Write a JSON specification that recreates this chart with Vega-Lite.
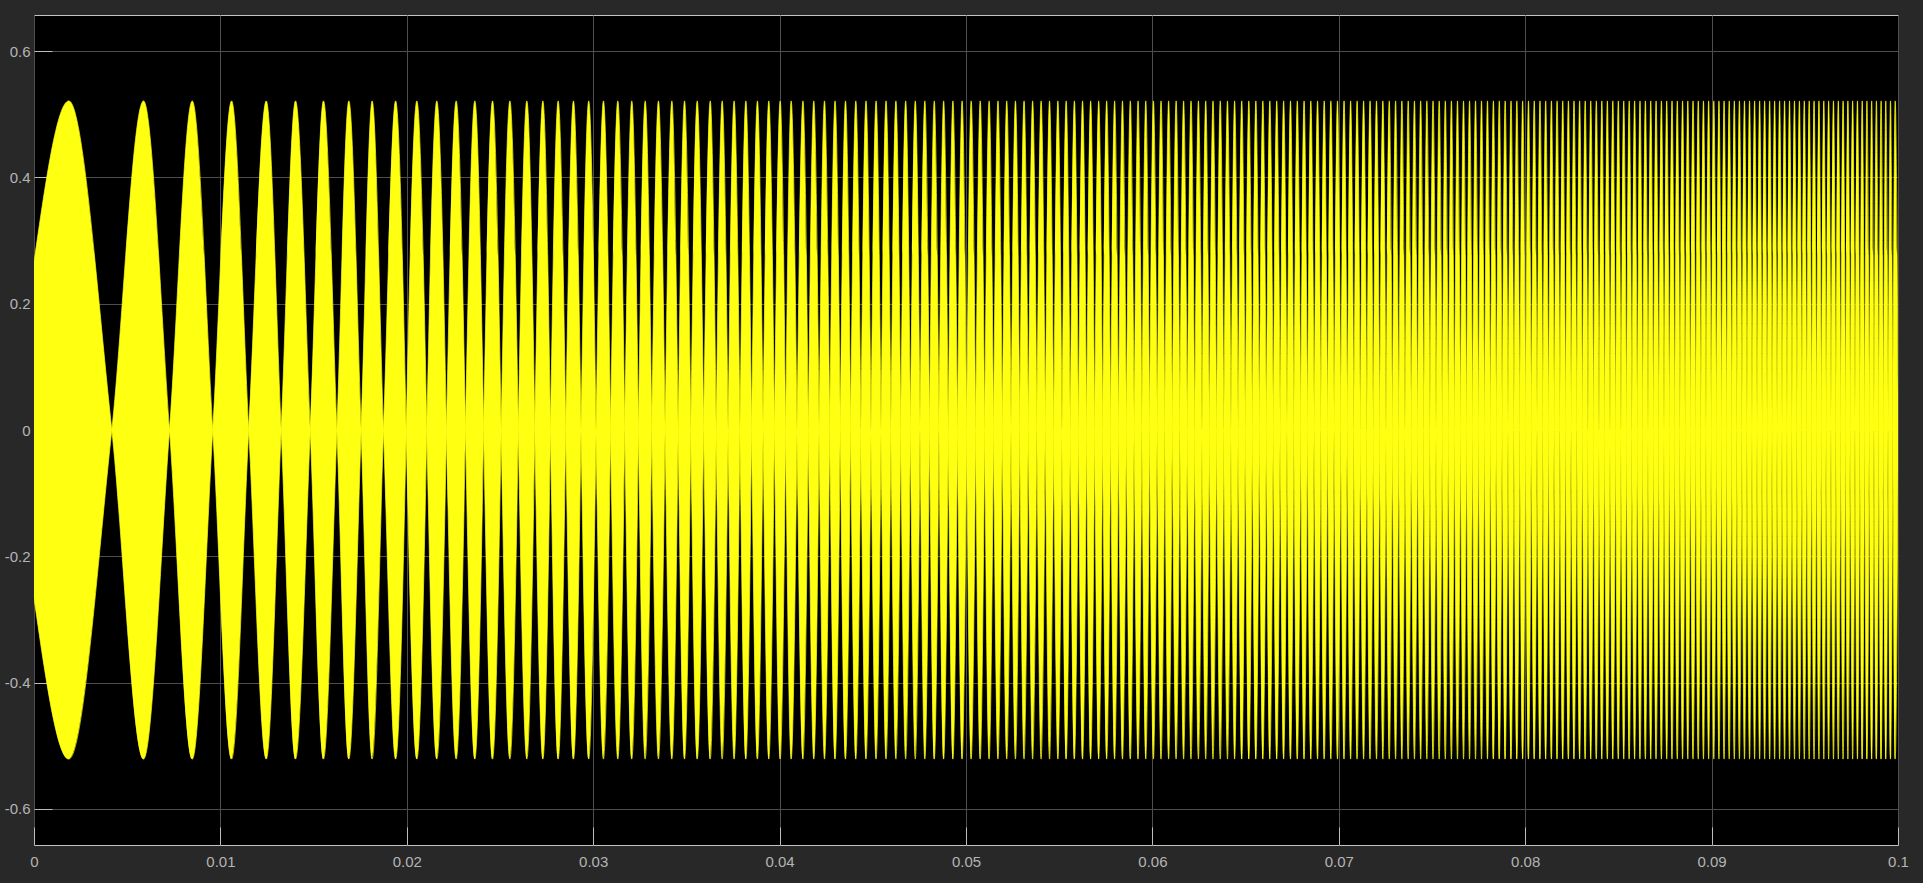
{
"$schema": "https://vega.github.io/schema/vega-lite/v6.json",
"width": 1864, "height": 830,
"autosize": {"type": "none"},
"padding": {"left": 34, "top": 15, "right": 25, "bottom": 38},
"background": "#282828",
"config": {
 "view": {"fill": "#000000", "stroke": "#c4c4c4", "strokeWidth": 1},
 "axis": {"grid": true, "gridColor": "#4e4e4e", "gridWidth": 1, "domain": false, "tickColor": "#bdbdbd", "tickSize": -18, "labelColor": "#b4b4b4", "labelFont": "Liberation Sans", "labelFontSize": 15, "title": null, "labelFlush": false, "format": "~f"}
},
"data": {"values": [
{"t":0,"e":0.266},{"t":0.001867,"e":0.521},{"t":0.004174,"e":0},{"t":0.005875,"e":-0.521},{"t":0.00727,"e":0},{"t":0.00849,"e":0.521},{"t":0.00959,"e":0},{"t":0.0106,"e":-0.521},{"t":0.01152,"e":0},{"t":0.01246,"e":0.521},{"t":0.01326,"e":0},{"t":0.01403,"e":-0.521},{"t":0.01482,"e":0},{"t":0.01553,"e":0.521},{"t":0.01625,"e":0},{"t":0.01689,"e":-0.521},{"t":0.01755,"e":0},{"t":0.01814,"e":0.521},{"t":0.01875,"e":0},{"t":0.0194,"e":-0.521},
{"t":0.02054,"e":0.521},{"t":0.02161,"e":-0.521},{"t":0.02265,"e":0.521},{"t":0.02365,"e":-0.521},{"t":0.0246,"e":0.521},{"t":0.02553,"e":-0.521},{"t":0.02644,"e":0.521},{"t":0.0273,"e":-0.521},{"t":0.02812,"e":0.521},{"t":0.02894,"e":-0.521},{"t":0.02976,"e":0.521},{"t":0.03055,"e":-0.521},{"t":0.03132,"e":0.521},{"t":0.03207,"e":-0.521},{"t":0.03279,"e":0.521},{"t":0.0335,"e":-0.521},{"t":0.03422,"e":0.521},{"t":0.0349,"e":-0.521},{"t":0.03558,"e":0.521},{"t":0.03628,"e":-0.521},{"t":0.03692,"e":0.521},{"t":0.03756,"e":-0.521},{"t":0.03819,"e":0.521},{"t":0.03881,"e":-0.521},{"t":0.03942,"e":0.521},{"t":0.04003,"e":-0.521},{"t":0.04062,"e":0.521},
{"t":0.041253,"e":-0.521},{"t":0.041834,"e":0.521},{"t":0.042408,"e":-0.521},{"t":0.042976,"e":0.521},{"t":0.043536,"e":-0.521},{"t":0.044089,"e":0.521},{"t":0.044636,"e":-0.521},{"t":0.045176,"e":0.521},{"t":0.045711,"e":-0.521},{"t":0.04624,"e":0.521},{"t":0.046763,"e":-0.521},{"t":0.04728,"e":0.521},{"t":0.047792,"e":-0.521},{"t":0.048299,"e":0.521},{"t":0.048801,"e":-0.521},{"t":0.049298,"e":0.521},{"t":0.049791,"e":-0.521},{"t":0.050278,"e":0.521},{"t":0.050762,"e":-0.521},{"t":0.051241,"e":0.521},{"t":0.051716,"e":-0.521},{"t":0.052186,"e":0.521},{"t":0.052653,"e":-0.521},{"t":0.053115,"e":0.521},{"t":0.053575,"e":-0.521},{"t":0.05403,"e":0.521},{"t":0.054481,"e":-0.521},{"t":0.054929,"e":0.521},{"t":0.055374,"e":-0.521},{"t":0.055815,"e":0.521},{"t":0.056253,"e":-0.521},{"t":0.056687,"e":0.521},{"t":0.057119,"e":-0.521},{"t":0.057547,"e":0.521},{"t":0.057973,"e":-0.521},{"t":0.058395,"e":0.521},{"t":0.058815,"e":-0.521},{"t":0.059231,"e":0.521},{"t":0.059645,"e":-0.521},{"t":0.060056,"e":0.521},{"t":0.060464,"e":-0.521},{"t":0.06087,"e":0.521},{"t":0.061273,"e":-0.521},{"t":0.061674,"e":0.521},{"t":0.062072,"e":-0.521},{"t":0.062468,"e":0.521},{"t":0.062861,"e":-0.521},{"t":0.063252,"e":0.521},{"t":0.06364,"e":-0.521},{"t":0.064027,"e":0.521},{"t":0.064411,"e":-0.521},{"t":0.064793,"e":0.521},{"t":0.065173,"e":-0.521},{"t":0.065551,"e":0.521},{"t":0.065926,"e":-0.521},{"t":0.0663,"e":0.521},{"t":0.066671,"e":-0.521},{"t":0.067041,"e":0.521},{"t":0.067408,"e":-0.521},{"t":0.067774,"e":0.521},{"t":0.068138,"e":-0.521},{"t":0.0685,"e":0.521},{"t":0.06886,"e":-0.521},{"t":0.069218,"e":0.521},{"t":0.069575,"e":-0.521},{"t":0.069929,"e":0.521},{"t":0.070282,"e":-0.521},{"t":0.070634,"e":0.521},{"t":0.070983,"e":-0.521},{"t":0.071331,"e":0.521},{"t":0.071677,"e":-0.521},{"t":0.072022,"e":0.521},{"t":0.072365,"e":-0.521},{"t":0.072707,"e":0.521},{"t":0.073047,"e":-0.521},{"t":0.073385,"e":0.521},{"t":0.073723,"e":-0.521},{"t":0.074058,"e":0.521},{"t":0.074392,"e":-0.521},{"t":0.074725,"e":0.521},{"t":0.075056,"e":-0.521},{"t":0.075386,"e":0.521},{"t":0.075714,"e":-0.521},{"t":0.076041,"e":0.521},{"t":0.076367,"e":-0.521},{"t":0.076691,"e":0.521},{"t":0.077014,"e":-0.521},{"t":0.077336,"e":0.521},{"t":0.077656,"e":-0.521},{"t":0.077976,"e":0.521},{"t":0.078293,"e":-0.521},{"t":0.07861,"e":0.521},{"t":0.078925,"e":-0.521},{"t":0.07924,"e":0.521},{"t":0.079553,"e":-0.521},{"t":0.079864,"e":0.521},{"t":0.080175,"e":-0.521},{"t":0.080485,"e":0.521},{"t":0.080793,"e":-0.521},{"t":0.0811,"e":0.521},{"t":0.081406,"e":-0.521},{"t":0.081711,"e":0.521},{"t":0.082015,"e":-0.521},{"t":0.082317,"e":0.521},{"t":0.082619,"e":-0.521},{"t":0.08292,"e":0.521},{"t":0.083219,"e":-0.521},{"t":0.083518,"e":0.521},{"t":0.083815,"e":-0.521},{"t":0.084112,"e":0.521},{"t":0.084407,"e":-0.521},{"t":0.084702,"e":0.521},{"t":0.084995,"e":-0.521},{"t":0.085288,"e":0.521},{"t":0.085579,"e":-0.521},{"t":0.08587,"e":0.521},{"t":0.086159,"e":-0.521},{"t":0.086448,"e":0.521},{"t":0.086736,"e":-0.521},{"t":0.087022,"e":0.521},{"t":0.087308,"e":-0.521},{"t":0.087593,"e":0.521},{"t":0.087877,"e":-0.521},{"t":0.08816,"e":0.521},{"t":0.088443,"e":-0.521},{"t":0.088724,"e":0.521},{"t":0.089005,"e":-0.521},{"t":0.089285,"e":0.521},{"t":0.089563,"e":-0.521},{"t":0.089841,"e":0.521},{"t":0.090119,"e":-0.521},{"t":0.090395,"e":0.521},{"t":0.090671,"e":-0.521},{"t":0.090945,"e":0.521},{"t":0.091219,"e":-0.521},{"t":0.091492,"e":0.521},{"t":0.091764,"e":-0.521},{"t":0.092036,"e":0.521},{"t":0.092307,"e":-0.521},{"t":0.092577,"e":0.521},{"t":0.092846,"e":-0.521},{"t":0.093114,"e":0.521},{"t":0.093382,"e":-0.521},{"t":0.093649,"e":0.521},{"t":0.093915,"e":-0.521},{"t":0.094181,"e":0.521},{"t":0.094446,"e":-0.521},{"t":0.09471,"e":0.521},{"t":0.094973,"e":-0.521},{"t":0.095236,"e":0.521},{"t":0.095498,"e":-0.521},{"t":0.095759,"e":0.521},{"t":0.09602,"e":-0.521},{"t":0.096279,"e":0.521},{"t":0.096538,"e":-0.521},{"t":0.096797,"e":0.521},{"t":0.097055,"e":-0.521},{"t":0.097312,"e":0.521},{"t":0.097568,"e":-0.521},{"t":0.097824,"e":0.521},{"t":0.098079,"e":-0.521},{"t":0.098334,"e":0.521},{"t":0.098588,"e":-0.521},{"t":0.098841,"e":0.521},{"t":0.099094,"e":-0.521},{"t":0.099346,"e":0.521},{"t":0.099597,"e":-0.521},{"t":0.099848,"e":0.521},{"t":0.100098,"e":-0.521}
]},
"encoding": {
 "x": {"field": "t", "type": "quantitative", "scale": {"domain": [0, 0.1], "nice": false, "zero": false},
  "axis": {"values": [0, 0.01, 0.02, 0.03, 0.04, 0.05, 0.06, 0.07, 0.08, 0.09, 0.1], "labelPadding": 27}}
},
"layer": [
 {"mark": {"type": "area", "interpolate": "monotone", "color": "#ffff11", "stroke": "#ffff11", "strokeWidth": 0.7, "clip": true},
  "encoding": {
   "y": {"field": "e", "type": "quantitative", "scale": {"domain": [-0.657, 0.657], "nice": false, "zero": false},
    "axis": {"values": [-0.6, -0.4, -0.2, 0, 0.2, 0.4, 0.6], "labelPadding": 22, "labelExpr": "replace(datum.label, '\u2212', '-')"}},
   "y2": {"datum": 0}
  }},
 {"mark": {"type": "area", "interpolate": "monotone", "color": "#ffff11", "stroke": "#ffff11", "strokeWidth": 0.7, "clip": true},
  "encoding": {
   "y": {"field": "e", "type": "quantitative", "scale": {"domain": [-0.657, 0.657], "nice": false, "zero": false, "reverse": true}, "axis": null},
   "y2": {"datum": 0}
  }}
],
"resolve": {"scale": {"y": "independent"}}
}
